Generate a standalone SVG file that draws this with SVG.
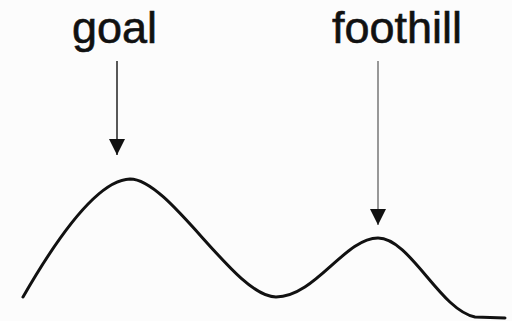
<svg xmlns="http://www.w3.org/2000/svg" width="512" height="321" viewBox="0 0 512 321">
  <defs>
    <marker id="head" viewBox="0 0 16 16" refX="16" refY="8" markerWidth="16" markerHeight="16" markerUnits="userSpaceOnUse" orient="auto">
      <path d="M0,0 L16,8 L0,16 Z" fill="#111"/>
    </marker>
    <style>
      .label { font-family: "Liberation Sans", Arial, sans-serif; font-size: 45px; fill: #111; stroke: #111; stroke-width: 0.6; }
      .curve { fill: none; stroke: #111; stroke-width: 3; stroke-linecap: round; stroke-linejoin: round; }
    </style>
  </defs>
  <rect width="512" height="321" fill="#fcfcfc"/>

  <!-- landscape profile -->
  <path class="curve" d="M23,297 C50,250 95,180 130,179 C170,179 235,297 276,297 C315,297 345,238 378,238 C410,238 440,310 475,317 L505,318"/>

  <g id="goal">
    <text class="label" x="72" y="43">goal</text>
  </g>
  <g id="foothill">
    <text class="label" x="332" y="43">foothill</text>
  </g>

  <g id="connectors">
    <line x1="117" y1="61" x2="117" y2="155" stroke="#222" stroke-width="1.5" marker-end="url(#head)"/>
    <line x1="378" y1="61" x2="378" y2="225" stroke="#777" stroke-width="1.5" marker-end="url(#head)"/>
  </g>
</svg>
